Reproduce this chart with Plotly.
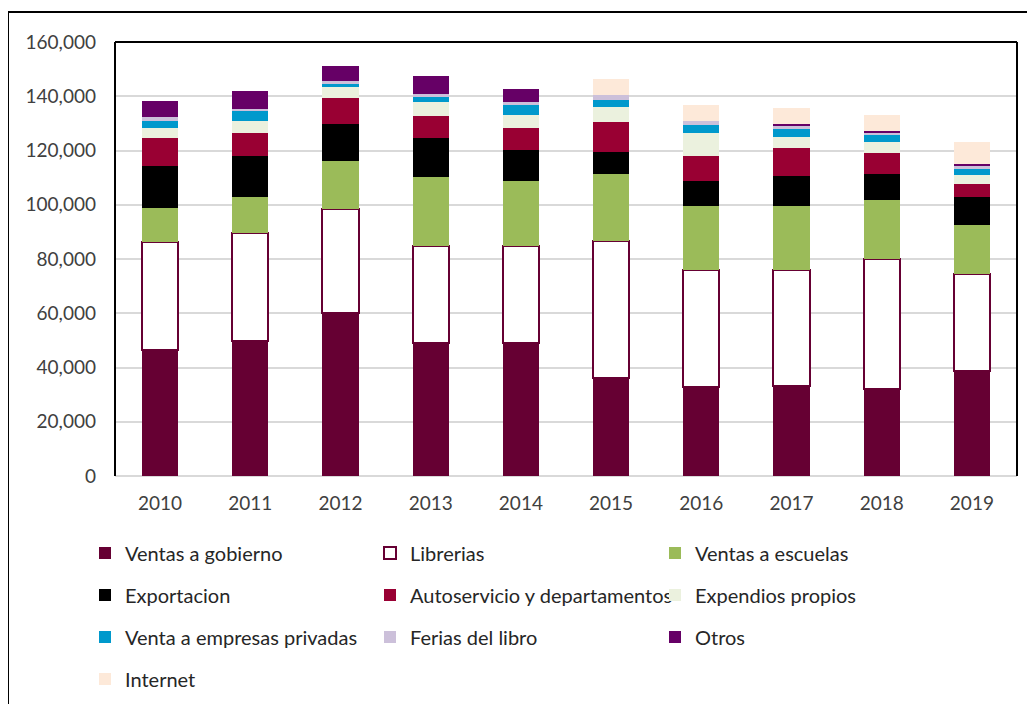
import plotly.graph_objects as go

years = ["2010", "2011", "2012", "2013", "2014", "2015", "2016", "2017", "2018", "2019"]

ventas_gobierno = [46600, 49900, 60000, 49200, 49200, 36200, 32900, 33300, 32000, 38800]
librerias       = [39500, 39700, 38300, 35500, 35500, 50400, 43200, 42800, 47900, 35600]
ventas_escuelas = [12800, 13400, 18000, 25400, 24000, 24900, 23600, 23600, 21700, 18200]
exportacion     = [15400, 15100, 13600, 14500, 11400,  8100,  9000, 10800,  9900, 10400]
autoservicio    = [10400,  8500,  9400,  8100,  8300, 10800,  9400, 10600,  7600,  4700]
expendios       = [ 3600,  4100,  4200,  5300,  4800,  5500,  8500,  4000,  3900,  3300]
venta_empresas  = [ 2700,  4000,  1200,  1800,  3400,  2900,  2800,  3000,  2700,  2000]
ferias_libro    = [ 1200,   700,  1100,  1200,  1200,  1500,  1300,  1000,   900,  1400]
otros           = [ 6100,  6700,  5400,  6300,  4800,     0,     0,   500,   500,   500]
internet        = [    0,     0,     0,     0,     0,  6000,  6200,  5900,  6100,  8400]

y_ticks = [0, 20000, 40000, 60000, 80000, 100000, 120000, 140000, 160000]

series = [
    ("Ventas a gobierno", ventas_gobierno, "#660033", "#660033", 0, "legend"),
    ("Librerias", librerias, "#FFFFFF", "#660033", 2, "legend"),
    ("Ventas a escuelas", ventas_escuelas, "#9BBB59", "#9BBB59", 0, "legend"),
    ("Exportacion", exportacion, "#000000", "#000000", 0, "legend2"),
    ("Autoservicio y departamentos", autoservicio, "#990033", "#990033", 0, "legend2"),
    ("Expendios propios", expendios, "#EBF1DE", "#EBF1DE", 0, "legend2"),
    ("Venta a empresas privadas", venta_empresas, "#0099CC", "#0099CC", 0, "legend3"),
    ("Ferias del libro", ferias_libro, "#CCC0DA", "#CCC0DA", 0, "legend3"),
    ("Otros", otros, "#660066", "#660066", 0, "legend3"),
    ("Internet", internet, "#FDE9D9", "#FDE9D9", 0, "legend4"),
]

fig = go.Figure()
for name, vals, fill, line, lw, lg in series:
    fig.add_trace(go.Bar(
        x=years, y=vals, name=name,
        marker=dict(color=fill, line=dict(color=line, width=lw)),
        legend=lg,
    ))

font_family = "Lato, 'Open Sans', sans-serif"
# page body has an 8px margin, so the figure is sized to fit the window
W, H = 1027, 696
L, R, T, B = 107, 18, 34, 228
pw, ph = W - L - R, H - T - B

def py(pix):
    return (H - B - pix) / ph

def px(pix):
    return (pix - L) / pw

legend_common = dict(
    orientation="h", entrywidth=240, entrywidthmode="pixels",
    x=px(77), xanchor="left", yanchor="middle",
    font=dict(family=font_family, size=20, color="#262626"),
    bgcolor="rgba(0,0,0,0)", traceorder="normal",
    itemclick=False, itemdoubleclick=False,
)

fig.update_layout(
    width=W, height=H,
    margin=dict(l=L, r=R, t=T, b=B, autoexpand=False),
    barmode="stack", bargap=0.6,
    paper_bgcolor="white", plot_bgcolor="white",
    font=dict(family=font_family, size=19, color="#404040"),
    legend=dict(legend_common, y=py(545)),
    legend2=dict(legend_common, y=py(587)),
    legend3=dict(legend_common, y=py(629)),
    legend4=dict(legend_common, y=py(671)),
    xaxis=dict(showgrid=False, showline=False, ticks="", ticklabelstandoff=14,
               tickfont=dict(size=19, color="#404040")),
    yaxis=dict(range=[0, 160000], tickvals=y_ticks, tickformat=",",
               showgrid=True, gridcolor="#D9D9D9", gridwidth=2,
               zeroline=True, zerolinecolor="#D9D9D9", zerolinewidth=2,
               showline=False, ticks="", ticklabelstandoff=18,
               tickfont=dict(size=19, color="#404040")),
    shapes=[
        dict(type="line", xref="paper", yref="paper", x0=0, x1=0, y0=0, y1=1,
             line=dict(color="black", width=2)),
        dict(type="line", xref="paper", yref="paper", x0=0, x1=1, y0=1, y1=1,
             line=dict(color="black", width=2)),
        dict(type="line", xref="paper", yref="paper", x0=1, x1=1, y0=0, y1=1,
             line=dict(color="black", width=2)),
        dict(type="line", xref="paper", yref="paper", x0=px(0), x1=px(1040), y0=py(4), y1=py(4),
             line=dict(color="black", width=2)),
        dict(type="line", xref="paper", yref="paper", x0=px(0), x1=px(0), y0=py(4), y1=py(710),
             line=dict(color="black", width=2)),
    ],
)

fig.write_html("out.html")
